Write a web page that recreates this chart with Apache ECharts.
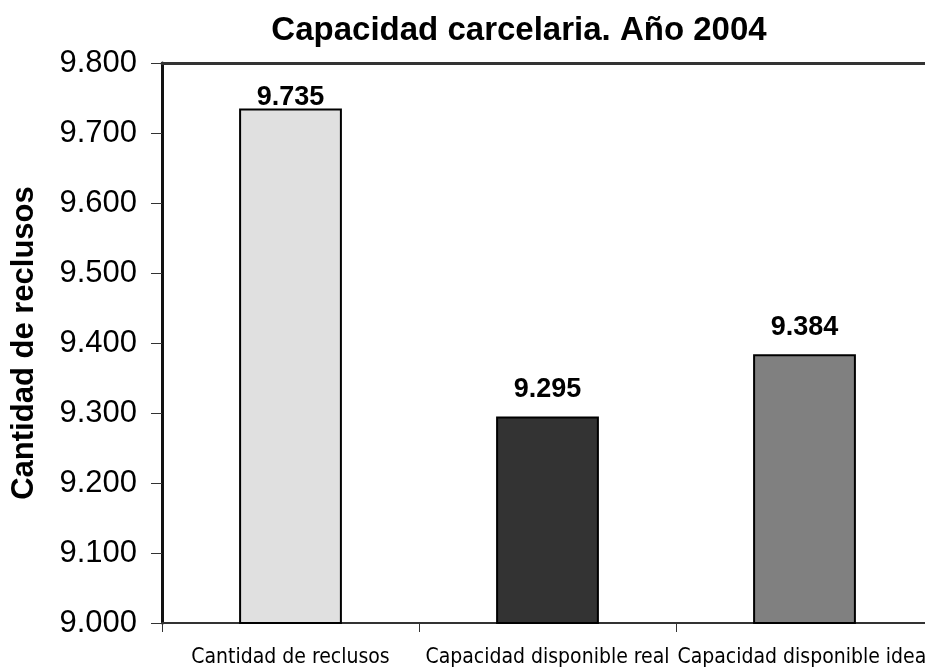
<!DOCTYPE html>
<html><head><meta charset="utf-8">
<script src="https://cdn.jsdelivr.net/npm/echarts@6/dist/echarts.min.js"></script>
<style>html,body{margin:0;padding:0;background:#fff}#c{width:925px;height:672px}</style>
</head><body><div id="c"></div>
<script>
const categories = ["Cantidad de reclusos", "Capacidad disponible real", "Capacidad disponible ideal"];
const values = [9735, 9295, 9384];
const barColors = ["#e0e0e0", "#333333", "#808080"];
const title = "Capacidad carcelaria. Año 2004";
const yName = "Cantidad de reclusos";

// label gap above each bar (style only)
const labelGap = [-3, 13, 13];

function fmt(v){ const s = String(Math.round(v)); return s.replace(/\B(?=(\d{3})+(?!\d))/g, "."); }

const chart = echarts.init(document.getElementById('c'), null, {renderer:'canvas'});
chart.setOption({
  animation:false,
  backgroundColor:'#fff',
  title:{text:title,left:514,textAlign:'center',top:9,textStyle:{fontFamily:'Liberation Sans, Arial',fontWeight:'bold',fontSize:33,color:'#000'}},
  grid:{left:162,width:771,top:63,bottom:49,containLabel:false,outerBoundsMode:'none'},
  xAxis:[{
    type:'category',data:categories,
    axisLine:{show:true,lineStyle:{color:'#333',width:2}},
    axisTick:{show:true,length:9,lineStyle:{color:'#333',width:1}},
    axisLabel:{margin:24,fontFamily:'Liberation Sans Narrow, DejaVu Sans Condensed, Arial Narrow, sans-serif',fontSize:21,color:'#000',interval:0,hideOverlap:false}
  },{
    type:'category',data:categories,position:'top',
    axisLine:{show:true,lineStyle:{color:'#333',width:3}},
    axisTick:{show:false},axisLabel:{show:false}
  }],
  yAxis:{
    type:'value',min:9000,max:9800,interval:100,
    name:yName,nameLocation:'middle',nameGap:122,
    nameTextStyle:{fontFamily:'Liberation Sans, Arial',fontWeight:'bold',fontSize:31,color:'#000'},
    axisLine:{show:true,lineStyle:{color:'#111',width:3}},
    axisTick:{show:true,inside:false,length:11,lineStyle:{color:'#333',width:1}},
    axisLabel:{margin:25,fontFamily:'Liberation Sans, Arial',fontSize:31,color:'#000',formatter:fmt},
    splitLine:{show:false}
  },
  series:[{
    type:'bar',barWidth:'40%',
    data:values.map((v,i)=>({value:v,itemStyle:{color:barColors[i]},label:{distance:labelGap[i]}})),
    itemStyle:{borderColor:'#000',borderWidth:2},
    label:{show:true,position:'top',formatter:p=>fmt(p.value),fontFamily:'Liberation Sans, Arial',fontWeight:'bold',fontSize:27,color:'#000'}
  }]
});
</script></body></html>
